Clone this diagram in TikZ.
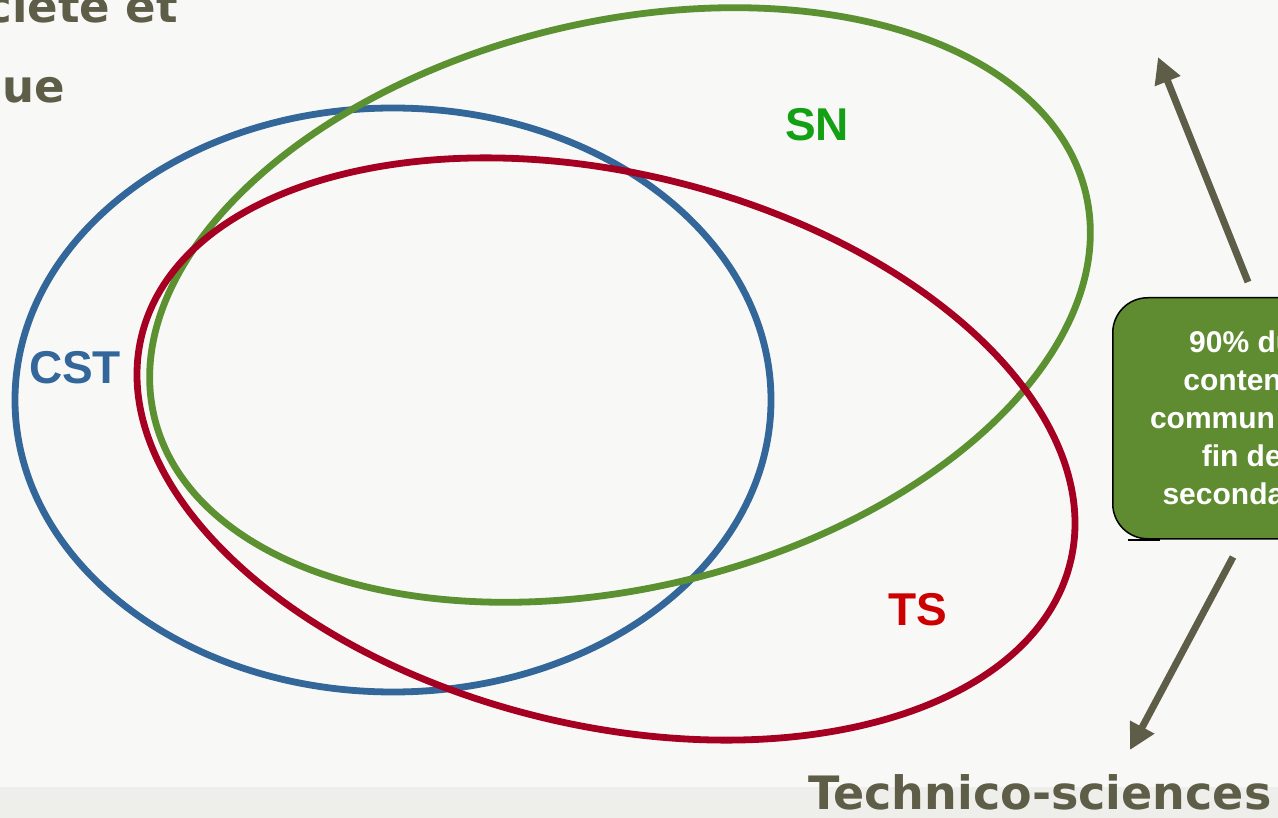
\documentclass[tikz,border=0pt]{standalone}
\usepackage{fontspec}
\setmainfont{Liberation Sans}
\newfontfamily\titlefont{DejaVu Sans}
\usetikzlibrary{arrows.meta}
\definecolor{bgc}{HTML}{F8F8F6}
\definecolor{bandc}{HTML}{EEEFEB}
\definecolor{cstc}{HTML}{336699}
\definecolor{snc}{HTML}{5B9130}
\definecolor{tsc}{HTML}{A50021}
\definecolor{sntext}{HTML}{14A014}
\definecolor{tstext}{HTML}{CC0000}
\definecolor{csttext}{HTML}{33669A}
\definecolor{boxc}{HTML}{5F8C31}
\definecolor{arrc}{HTML}{5E5D48}
\tikzset{
  ring/.style={line width=6.8pt},
  setlabel/.style={font=\fontsize{46}{50}\selectfont\bfseries, inner sep=0pt},
  bigtitle/.style={font=\titlefont\fontsize{45}{50}\selectfont\bfseries, text=arrc, inner sep=0pt},
  pointer/.style={draw=arrc, line width=7pt, -{Triangle[length=26pt,width=26pt]}},
  infobox/.style={draw=black, line width=1.5pt, fill=boxc, rounded corners=35pt, text=white,
    font=\fontsize{30}{38}\selectfont\bfseries, align=center, minimum width=258pt, minimum height=241pt, inner sep=0pt}
}
\begin{document}
\begin{tikzpicture}[x=1pt,y=-1pt]
\useasboundingbox (0,0) rectangle (1278,818);
\clip (0,0) rectangle (1278,818);
\fill[bgc] (0,0) rectangle (1278,818);
\fill[bandc] (0,787) rectangle (1278,818);
% sets
\draw[ring, cstc] (393,400) ellipse [x radius=378pt, y radius=292pt];
\draw[ring, snc, rotate around={13.6:(620,305)}] (620,305) ellipse [x radius=479pt, y radius=283pt];
\draw[ring, tsc, rotate around={-13.7:(606,449)}] (606,449) ellipse [x radius=478pt, y radius=276pt];
% labels
\node[setlabel, text=sntext] (sn) at (817,125) {SN};
\node[setlabel, text=csttext] (cst) at (75,368) {CST};
\node[setlabel, text=tstext] (ts) at (918,610) {TS};
% titles
\node[bigtitle, anchor=base east] (t1) at (178,23) {Société et};
\node[bigtitle, anchor=base east] (t2) at (65,103) {technique};
\node[bigtitle, anchor=base west, font=\titlefont\fontsize{46}{50}\selectfont\bfseries] (t3) at (808,809) {Technico-sciences};
% box
\draw[black, line width=2pt] (1128,540) -- (1160,540);
\node[infobox, anchor=north west] (box) at (1112,297) {90\% du\\contenu\\commun à la\\fin de\\secondaire};
% arrows
\coordinate (a1s) at (1248,282);
\coordinate (a1e) at (1158,57);
\coordinate (a2s) at (1233,557);
\coordinate (a2e) at (1130,750);
\draw[pointer] (a1s) -- (a1e);
\draw[pointer] (a2s) -- (a2e);
\end{tikzpicture}
\end{document}
